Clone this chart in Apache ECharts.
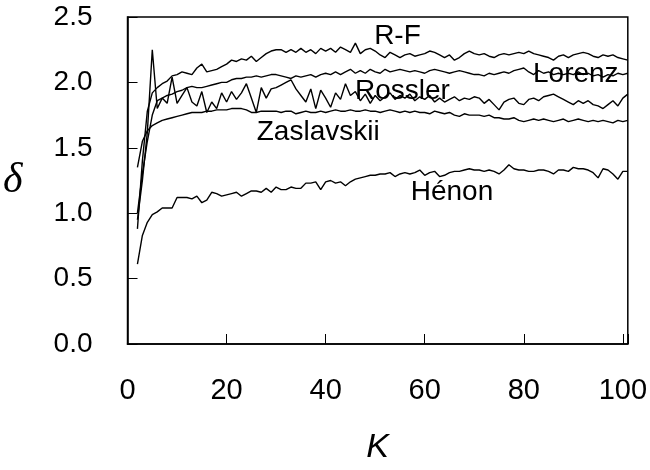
<!DOCTYPE html>
<html>
<head>
<meta charset="utf-8">
<script src="https://cdn.jsdelivr.net/npm/echarts@6/dist/echarts.min.js"></script>
<style>html,body{margin:0;padding:0;background:#fff}#c{width:650px;height:470px}</style>
</head>
<body>
<div id="c"></div>
<script>
// K runs from 2 to 101
const kStart = 2;
const rf = [0.88,1.40,1.78,1.92,1.96,1.99,2.01,2.05,2.06,2.08,2.07,2.06,2.11,2.14,2.08,2.09,2.10,2.12,2.14,2.17,2.16,2.18,2.17,2.20,2.16,2.19,2.22,2.24,2.25,
2.25,2.23,2.25,2.23,2.26,2.23,2.25,2.22,2.26,2.24,2.26,2.23,2.27,2.25,2.23,2.30,2.22,2.25,2.26,2.24,2.21,2.19,2.23,2.21,2.19,2.21,2.22,2.20,2.21,2.22,
2.24,2.23,2.21,2.19,2.21,2.17,2.19,2.22,2.24,2.22,2.21,2.22,2.20,2.19,2.21,2.22,2.21,2.22,2.23,2.22,2.24,2.22,2.21,2.20,2.19,2.17,2.20,2.21,2.19,2.21,
2.22,2.23,2.22,2.20,2.19,2.21,2.20,2.21,2.19,2.18,2.17];
const lorenz = [1.00,1.30,1.55,1.75,1.86,1.88,1.90,1.91,1.93,1.94,1.96,1.97,1.96,1.96,1.97,1.98,1.99,2.00,2.00,2.02,2.03,2.03,2.04,2.04,2.05,2.04,2.05,2.06,2.06,
2.05,2.04,2.03,2.05,2.04,2.05,2.06,2.04,2.06,2.07,2.06,2.08,2.06,2.08,2.10,2.07,2.09,2.07,2.10,2.08,2.07,2.10,2.08,2.09,2.10,2.09,2.08,2.09,2.08,2.07,
2.09,2.10,2.09,2.08,2.07,2.08,2.09,2.08,2.07,2.06,2.06,2.05,2.07,2.06,2.07,2.08,2.07,2.09,2.10,2.11,2.08,2.06,2.09,2.07,2.08,2.06,2.07,2.06,2.07,2.06,
2.08,2.06,2.07,2.05,2.06,2.04,2.06,2.05,2.07,2.06,2.07];
const rossler = [0.95,1.25,1.62,2.25,1.80,1.88,1.84,2.04,1.84,1.90,1.96,1.85,1.82,1.93,1.77,1.85,1.80,1.92,1.85,1.93,1.87,1.92,1.99,1.88,1.77,1.96,1.88,1.95,1.96,
1.98,2.00,2.02,1.95,1.90,1.85,1.95,1.80,1.94,1.88,1.81,1.92,1.87,1.99,1.90,1.93,1.86,1.91,1.84,1.90,1.86,1.89,1.92,1.87,1.90,1.88,1.91,1.86,1.89,1.87,
1.90,1.85,1.88,1.85,1.87,1.89,1.86,1.88,1.87,1.89,1.88,1.84,1.87,1.83,1.79,1.85,1.87,1.88,1.84,1.83,1.87,1.88,1.86,1.89,1.90,1.91,1.89,1.87,1.85,1.83,
1.86,1.84,1.86,1.83,1.82,1.80,1.83,1.86,1.82,1.88,1.91];
const zaslavskii = [1.35,1.55,1.63,1.67,1.69,1.71,1.72,1.73,1.74,1.75,1.76,1.77,1.77,1.77,1.78,1.78,1.79,1.79,1.79,1.80,1.80,1.80,1.79,1.77,1.77,1.78,1.78,1.78,1.78,
1.77,1.78,1.78,1.76,1.77,1.78,1.77,1.77,1.78,1.77,1.78,1.79,1.78,1.78,1.79,1.78,1.78,1.79,1.78,1.78,1.77,1.78,1.79,1.78,1.77,1.78,1.77,1.78,1.77,1.77,
1.76,1.78,1.77,1.76,1.77,1.75,1.74,1.76,1.75,1.75,1.75,1.74,1.75,1.73,1.73,1.72,1.72,1.73,1.71,1.70,1.71,1.72,1.71,1.72,1.71,1.70,1.71,1.72,1.70,1.71,
1.72,1.71,1.70,1.71,1.70,1.71,1.70,1.69,1.71,1.70,1.71];
const henon = [0.61,0.83,0.93,0.99,1.01,1.04,1.04,1.04,1.12,1.12,1.12,1.11,1.13,1.08,1.10,1.16,1.15,1.13,1.14,1.15,1.16,1.13,1.15,1.17,1.17,1.16,1.19,1.16,1.20,
1.18,1.18,1.20,1.19,1.19,1.23,1.23,1.24,1.18,1.24,1.25,1.23,1.24,1.21,1.24,1.26,1.27,1.28,1.29,1.29,1.30,1.30,1.31,1.28,1.30,1.31,1.30,1.31,1.33,1.29,
1.31,1.32,1.28,1.29,1.31,1.32,1.32,1.33,1.34,1.33,1.33,1.32,1.33,1.32,1.30,1.33,1.37,1.34,1.33,1.33,1.32,1.32,1.33,1.33,1.32,1.30,1.33,1.33,1.32,1.35,
1.34,1.34,1.33,1.31,1.27,1.34,1.33,1.30,1.26,1.32,1.32];

const xTicks = [0, 20, 40, 60, 80, 100];
const yTicks = [0.0, 0.5, 1.0, 1.5, 2.0, 2.5];

// curve annotations (data coordinates)
const labelNames = ['R-F', 'Lorenz', 'Rossler', 'Zaslavskii', 'Hénon'];
const labelK     = [54.5, 90.5, 55.5, 38.5, 65.5];
const labelDelta = [2.35, 2.06, 1.93, 1.62, 1.16];

const FONT = 'Liberation Sans';
function pairs(arr){ return arr.map((v,i)=>[kStart+i, v]); }
const seriesDefs = [['R-F', rf], ['Lorenz', lorenz], ['Rossler', rossler], ['Zaslavskii', zaslavskii], ['Hénon', henon]];

const chart = echarts.init(document.getElementById('c'), null, {renderer:'canvas'});
chart.setOption({
  animation: false,
  backgroundColor: '#fff',
  grid: {left: 123, right: 19, top: 17, bottom: 109, show: true, borderColor: '#000', borderWidth: 1.5},
  xAxis: {
    type: 'value', min: 0, max: 101, interval: 20,
    name: 'K', nameLocation: 'middle', nameGap: 87,
    nameTextStyle: {fontFamily: FONT, fontStyle: 'italic', fontSize: 34, color: '#000'},
    axisLine: {show: true, lineStyle: {color: '#000', width: 1.5}},
    axisTick: {show: true, inside: true, length: 10, lineStyle: {color: '#000', width: 1}},
    splitLine: {show: false},
    axisLabel: {margin: 32, fontFamily: FONT, fontSize: 29, color: '#000',
      formatter: v => xTicks.indexOf(v) >= 0 ? String(v) : ''}
  },
  yAxis: {
    type: 'value', min: 0, max: 2.5, interval: 0.5,
    name: 'δ', nameLocation: 'middle', nameRotate: 0, nameGap: 105,
    nameTextStyle: {fontFamily: 'Liberation Serif', fontStyle: 'italic', fontSize: 42, color: '#000', padding: [0,0,36,0]},
    axisLine: {show: true, lineStyle: {color: '#000', width: 1.5}},
    axisTick: {show: true, inside: true, length: 10, lineStyle: {color: '#000', width: 1}},
    splitLine: {show: false},
    axisLabel: {margin: 35, fontFamily: FONT, fontSize: 28, color: '#000',
      formatter: v => yTicks.indexOf(v) >= 0 ? v.toFixed(1) : ''}
  },
  series: seriesDefs.map(([n, arr]) => ({
    name: n, type: 'line', data: pairs(arr), showSymbol: false, symbol: 'none',
    lineStyle: {color: '#000', width: 1.4}, z: 3
  }))
});

const g = labelNames.map((t, i) => {
  const p = chart.convertToPixel({gridIndex: 0}, [labelK[i], labelDelta[i]]);
  return {type: 'text', x: p[0], y: p[1], z: 10,
    style: {text: t, fontFamily: FONT, fontSize: 28, fill: '#000', align: 'center', verticalAlign: 'middle'}};
});
chart.setOption({graphic: g});
</script>
</body>
</html>
